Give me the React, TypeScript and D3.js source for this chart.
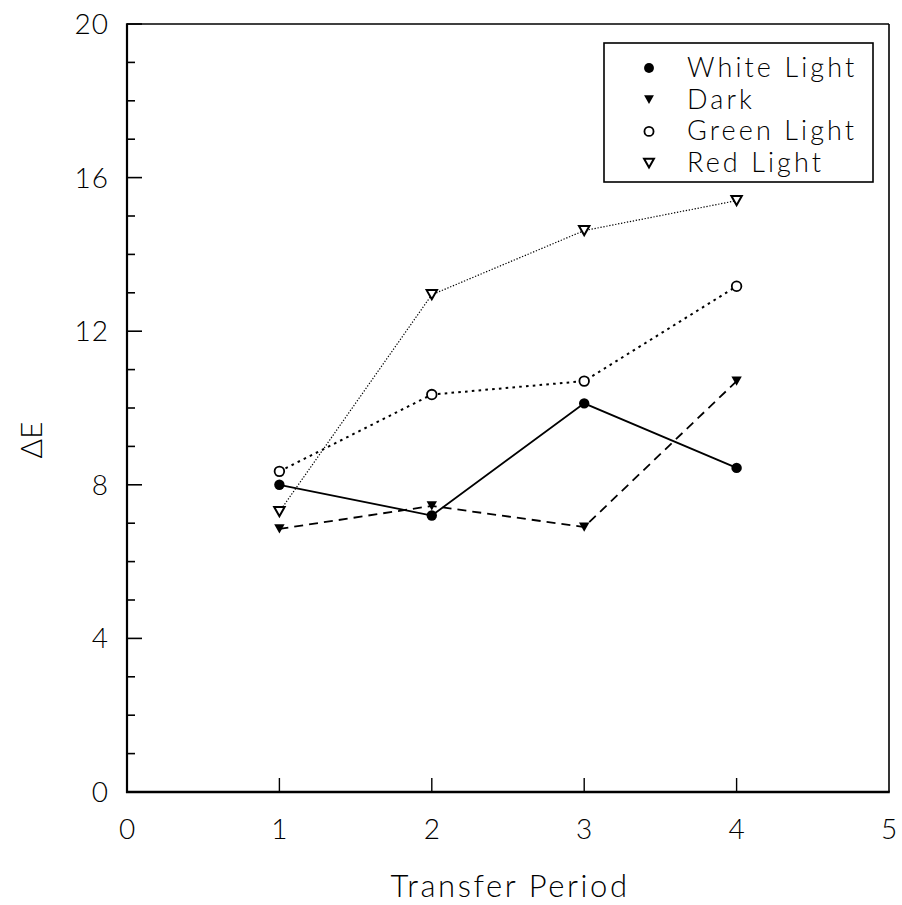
import React from "react";
import * as d3 from "d3";

// Transfer periods on the x axis
const periods = [1, 2, 3, 4];

// ΔE values per treatment
const whiteLight = [8.0, 7.2, 10.12, 8.44];
const dark = [6.85, 7.45, 6.9, 10.7];
const greenLight = [8.35, 10.35, 10.7, 13.17];
const redLight = [7.3, 12.95, 14.62, 15.4];

const seriesNames = ["White Light", "Dark", "Green Light", "Red Light"];

const xTickValues = [0, 1, 2, 3, 4, 5];
const yTickValues = [0, 4, 8, 12, 16, 20];
const yMinorValues = d3.range(0, 21, 1);

const W = 902;
const H = 905;
const left = 127;
const right = 889;
const top = 24;
const bottom = 792;

const FONT = "Lato, 'DejaVu Sans', sans-serif";

type MarkerKind = "dot" | "tri" | "ring" | "openTri";

function Marker({ kind, cx, cy, s = 1 }: { kind: MarkerKind; cx: number; cy: number; s?: number }) {
  if (kind === "dot") return <circle cx={cx} cy={cy} r={5.2 * s} fill="#000" />;
  if (kind === "ring")
    return <circle cx={cx} cy={cy} r={4.8 * s} fill="#fff" stroke="#000" strokeWidth={1.8} />;
  const hw = 5.2 * s;
  const hh = 4.6 * s;
  const pts = `${cx - hw},${cy - hh} ${cx + hw},${cy - hh} ${cx},${cy + hh}`;
  if (kind === "tri") return <polygon points={pts} fill="#000" />;
  return <polygon points={pts} fill="#fff" stroke="#000" strokeWidth={2} strokeLinejoin="miter" />;
}

export default function App() {
  const x = d3.scaleLinear().domain([0, 5]).range([left, right]);
  const y = d3.scaleLinear().domain([0, 20]).range([bottom, top]);

  const series = [
    { name: seriesNames[0], values: whiteLight, marker: "dot" as MarkerKind, dash: "", width: 1.8 },
    { name: seriesNames[1], values: dark, marker: "tri" as MarkerKind, dash: "9 6", width: 1.8 },
    { name: seriesNames[2], values: greenLight, marker: "ring" as MarkerKind, dash: "2.6 4.2", width: 2 },
    { name: seriesNames[3], values: redLight, marker: "openTri" as MarkerKind, dash: "1.3 1.7", width: 1.2 },
  ];

  const line = d3
    .line<number>()
    .x((_, i) => x(periods[i]))
    .y((d) => y(d));

  const legendX = 604;
  const legendY = 43;
  const legendW = 269;
  const legendH = 139;

  return (
    <svg
      width={W}
      height={H}
      style={{ position: "absolute", left: 0, top: 0, background: "#fff" }}
      fontFamily={FONT}
    >
      <rect x={0} y={0} width={W} height={H} fill="#fff" />

      {/* frame */}
      <line x1={left} y1={top} x2={right} y2={top} stroke="#000" strokeWidth={1.6} />
      <line x1={right} y1={top} x2={right} y2={bottom} stroke="#000" strokeWidth={1.6} />
      <line x1={left} y1={top - 0.8} x2={left} y2={bottom + 1} stroke="#000" strokeWidth={2.2} />
      <line x1={left - 1} y1={bottom} x2={right + 0.8} y2={bottom} stroke="#000" strokeWidth={2.6} />

      {/* y ticks (inward) */}
      {yMinorValues.map((v) => (
        <line
          key={`ym${v}`}
          x1={left}
          x2={left + (v % 4 === 0 ? 15 : 8)}
          y1={y(v)}
          y2={y(v)}
          stroke="#000"
          strokeWidth={1.6}
        />
      ))}
      {yTickValues.map((v) => (
        <text
          key={`yl${v}`}
          x={109}
          y={y(v)}
          dy="0.36em"
          textAnchor="end"
          fontSize={28}
          fontWeight={300}
          letterSpacing={1}
        >
          {v}
        </text>
      ))}

      {/* x ticks (inward) */}
      {xTickValues
        .filter((v) => v > 0 && v < 5)
        .map((v) => (
          <line key={`xt${v}`} x1={x(v)} x2={x(v)} y1={bottom} y2={bottom - 14} stroke="#000" strokeWidth={1.4} />
        ))}
      {xTickValues.map((v) => (
        <text key={`xl${v}`} x={x(v)} y={839} textAnchor="middle" fontSize={28} fontWeight={300}>
          {v}
        </text>
      ))}

      {/* axis titles */}
      <text x={510} y={897} textAnchor="middle" fontSize={31} fontWeight={300} letterSpacing={2.6}>
        Transfer Period
      </text>
      <text
        transform={`translate(42,440) rotate(-90)`}
        textAnchor="middle"
        fontSize={30}
        fontWeight={300}
      >
        ΔE
      </text>

      {/* series lines */}
      {series.map((s) => (
        <path
          key={`p${s.name}`}
          d={line(s.values) || ""}
          fill="none"
          stroke="#000"
          strokeWidth={s.width}
          strokeDasharray={s.dash || undefined}
        />
      ))}

      {/* series markers */}
      {series.map((s) =>
        s.values.map((v, i) => (
          <Marker key={`m${s.name}${i}`} kind={s.marker} cx={x(periods[i])} cy={y(v)} />
        ))
      )}

      {/* legend */}
      <rect x={legendX} y={legendY} width={legendW} height={legendH} fill="#fff" stroke="#000" strokeWidth={1.6} />
      {series.map((s, i) => {
        const base = 77 + i * 31.7;
        return (
          <g key={`lg${s.name}`}>
            <Marker kind={s.marker} cx={649} cy={base - 9} s={0.95} />
            <text x={687} y={base} fontSize={27} fontWeight={300} letterSpacing={3.1}>
              {s.name}
            </text>
          </g>
        );
      })}
    </svg>
  );
}
